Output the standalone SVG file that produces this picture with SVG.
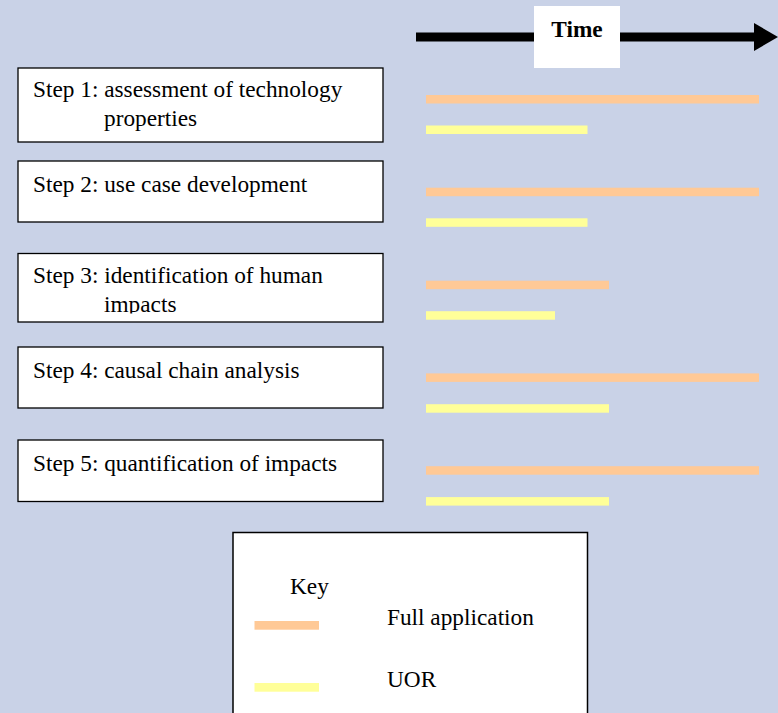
<svg xmlns="http://www.w3.org/2000/svg" width="778" height="713" viewBox="0 0 778 713">
<style>
.box{fill:#fff;stroke:#000;stroke-width:1.3}
.t{font-family:"Liberation Serif","Times New Roman",serif;font-size:23.3px;fill:#000}
.full{fill:#FFC996}
.uor{fill:#FFFF99}
</style>
<defs>
<clipPath id="c3"><rect x="18" y="253" width="365" height="60.5"/></clipPath>
</defs>
<rect x="0" y="0" width="778" height="713" fill="#C9D2E7"/>
<g id="time-axis">
<rect x="416" y="32.5" width="340" height="9" fill="#000"/>
<polygon points="754,23 778,37 754,51" fill="#000"/>
<rect x="534" y="6" width="86" height="62" fill="#fff"/>
<text class="t" x="577" y="37" text-anchor="middle" font-weight="bold" font-size="22">Time</text>
</g>
<g id="step1">
<rect class="box" x="18" y="68" width="365" height="74"/>
<text class="t" x="33" y="97">Step 1: assessment of technology</text>
<text class="t" x="104" y="126">properties</text>
</g>
<g id="step2">
<rect class="box" x="18" y="161" width="365" height="61"/>
<text class="t" x="33" y="192">Step 2: use case development</text>
</g>
<g id="step3">
<rect class="box" x="18" y="253.5" width="365" height="68.5"/>
<g clip-path="url(#c3)">
<text class="t" x="33" y="283">Step 3: identification of human</text>
<text class="t" x="104" y="312">impacts</text>
</g>
</g>
<g id="step4">
<rect class="box" x="18" y="347" width="365" height="61"/>
<text class="t" x="33" y="378">Step 4: causal chain analysis</text>
</g>
<g id="step5">
<rect class="box" x="18" y="440" width="365" height="61.5"/>
<text class="t" x="33" y="471">Step 5: quantification of impacts</text>
</g>
<g id="bars">
<rect class="full" x="426" y="95" width="333" height="8.5"/>
<rect class="uor" x="426" y="125.5" width="161.5" height="8.5"/>
<rect class="full" x="426" y="187.7" width="333" height="8.5"/>
<rect class="uor" x="426" y="218.3" width="161.5" height="8.5"/>
<rect class="full" x="426" y="280.7" width="183" height="8.5"/>
<rect class="uor" x="426" y="311.2" width="129" height="8.5"/>
<rect class="full" x="426" y="373.4" width="333" height="8.5"/>
<rect class="uor" x="426" y="404.2" width="183" height="8.5"/>
<rect class="full" x="426" y="466.2" width="333" height="8.5"/>
<rect class="uor" x="426" y="497.1" width="183" height="8.5"/>
</g>
<g id="key">
<rect x="233" y="532.5" width="354.5" height="190" fill="#fff" stroke="#000" stroke-width="1.5"/>
<text class="t" x="290" y="594">Key</text>
<rect class="full" x="254.5" y="621" width="64.5" height="8.7"/>
<text class="t" x="387" y="625">Full application</text>
<rect class="uor" x="254.5" y="683" width="64.5" height="8.7"/>
<text class="t" x="387" y="687">UOR</text>
</g>
</svg>
